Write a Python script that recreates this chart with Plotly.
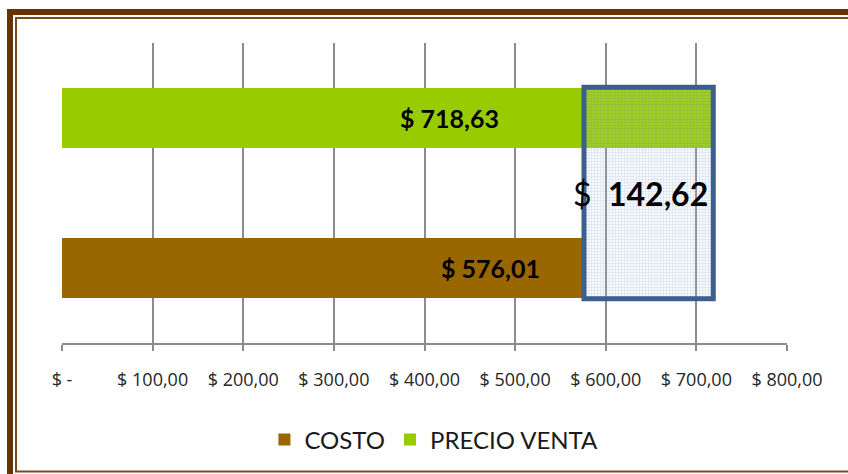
import plotly.graph_objects as go

# --- data -------------------------------------------------------------
categories = ["COSTO", "PRECIO VENTA"]
values = [576.01, 718.63]
bar_colors = ["#996600", "#99CC00"]
tick_values = [0, 100, 200, 300, 400, 500, 600, 700, 800]
tick_labels = ["$ -", "$ 100,00", "$ 200,00", "$ 300,00", "$ 400,00",
               "$ 500,00", "$ 600,00", "$ 700,00", "$ 800,00"]

# where the value labels sit along the value axis
label_x = [473, 428]

W, H = 848, 474
M_L, M_R, M_T, M_B = 62, 61, 43, 131


def money(v):
    return f"{v:,.2f}".replace(",", " ").replace(".", ",")


def px_x(p):
    return (p - M_L) / (W - M_L - M_R)


def px_y(p):
    return (H - M_B - p) / (H - M_T - M_B)


fig = go.Figure()

for i, (cat, val, col) in enumerate(zip(categories, values, bar_colors)):
    fig.add_trace(go.Bar(
        y=[i], x=[val], orientation="h", name=cat,
        marker=dict(color=col, line=dict(width=0)),
        width=0.4, hoverinfo="skip",
    ))

# margin between cost and sale price, shown as a hatched box
diff = values[1] - values[0]
fig.add_trace(go.Bar(
    y=[0.5], x=[diff], base=[values[0]], orientation="h",
    width=1.41, showlegend=False, hoverinfo="skip",
    marker=dict(
        color="rgba(0,0,0,0)",
        line=dict(color="#3C5F8E", width=5),
        pattern=dict(shape="+", size=3, solidity=0.35,
                     fgcolor="rgba(60,100,165,0.36)",
                     bgcolor="rgba(200,215,238,0.15)"),
    ),
))

annotations = []
for i, (val, lx) in enumerate(zip(values, label_x)):
    annotations.append(dict(
        x=lx, y=i, xref="x", yref="y", showarrow=False,
        text=f"<b>$ {money(val)}</b>",
        font=dict(family="Lato", size=25, color="#000000"),
    ))
annotations.append(dict(
    x=(values[0] + values[1]) / 2, y=0.5, xref="x", yref="y", xshift=-8,
    showarrow=False,
    text=f"$  <b>{money(diff)}</b>",
    font=dict(family="Lato", size=32, color="#000000"),
))

# double brown frame round the chart
shapes = [
    dict(type="rect", xref="paper", yref="paper", layer="above",
         x0=px_x(10), x1=px_x(900), y0=px_y(12), y1=px_y(520),
         line=dict(color="#663300", width=6), fillcolor="rgba(0,0,0,0)"),
    dict(type="rect", xref="paper", yref="paper", layer="above",
         x0=px_x(16), x1=px_x(900), y0=px_y(18), y1=px_y(471.5),
         line=dict(color="#7A4A1A", width=2), fillcolor="rgba(0,0,0,0)"),
]

fig.update_layout(
    width=W, height=H,
    margin=dict(l=M_L, r=M_R, t=M_T, b=M_B),
    paper_bgcolor="white", plot_bgcolor="white",
    barmode="overlay",
    showlegend=True,
    legend=dict(orientation="h", x=0.513, xanchor="center",
                y=-0.323, yanchor="middle",
                font=dict(family="Lato", size=24, color="#1a1a1a"),
                traceorder="normal"),
    xaxis=dict(range=[0, 800], tickvals=tick_values, ticktext=tick_labels,
               showgrid=True, gridcolor="#8C8C8C", gridwidth=2,
               zeroline=False, showline=True, linecolor="#8C8C8C",
               linewidth=2, ticks="outside", ticklen=6, tickwidth=2,
               tickcolor="#8C8C8C", ticklabelstandoff=13,
               tickfont=dict(family="Open Sans", size=18, color="#262626")),
    yaxis=dict(range=[-0.5, 1.5], showticklabels=False, showgrid=False,
               zeroline=False, showline=False, ticks=""),
    annotations=annotations,
    shapes=shapes,
)

fig.write_html("out.html")
